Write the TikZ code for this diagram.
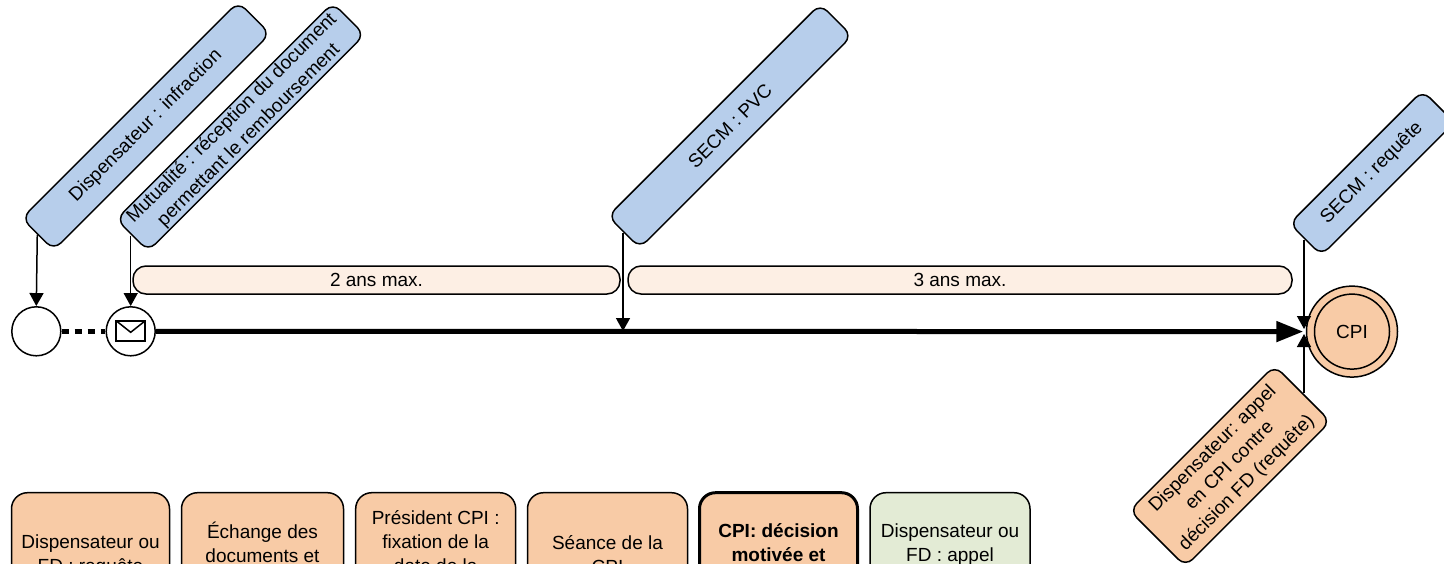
\documentclass[tikz,border=0pt]{standalone}
\usepackage{fontspec}
\setmainfont{Liberation Sans}
\usetikzlibrary{arrows.meta}
\definecolor{eventblue}{HTML}{B7CEEB}
\definecolor{taskorange}{HTML}{F8CBA6}
\definecolor{taskgreen}{HTML}{E3EBD5}
\definecolor{barpeach}{HTML}{FDEFE4}
\begin{document}
\begin{tikzpicture}[
    x=1pt, y=-1pt,
    line width=1.5pt,
    font=\fontsize{19}{24}\selectfont,
    >={Triangle[length=13pt,width=14pt]},
    callout/.style={draw, rectangle, rounded corners=10pt, rotate=45, align=center,
                    inner sep=0pt, minimum height=45pt},
    timebar/.style={draw, rectangle, rounded corners=13pt, fill=barpeach, inner sep=0pt,
                    minimum height=28pt},
    taskbox/.style={draw, rectangle, rounded corners=16pt, fill=taskorange, align=center,
                    inner sep=0pt, minimum height=124.6pt},
    event/.style={draw, circle, fill=white, inner sep=0pt, minimum size=49pt}
  ]
    \path[use as bounding box, clip] (0,0) rectangle (1444,563);

    % events on the time line
    \node[event] (start) at (36.3,331.3) {};
    \node[event] (msg)   at (130.7,331.3) {};
    \node[draw, circle, fill=taskorange, inner sep=0pt, minimum size=91pt] (cpiouter) at (1352,331.6) {};
    \node[draw, circle, inner sep=0pt, minimum size=75pt] (cpi) at (cpiouter) {CPI};
    \coordinate (pvcpoint) at (623,331);
    \coordinate (cpiabove) at (1304,329);
    \coordinate (cpibelow) at (1304,334);

    \begin{scope}[shift={(msg.center)}]
      \draw (-14.5,-10.5) rectangle (14.5,9.5);
      \draw (-14.5,-10.5) -- (0,1) -- (14.5,-10.5);
    \end{scope}

    % callouts
    \node[callout, fill=eventblue, minimum width=306pt] (infraction) at (146,126) {Dispensateur : infraction};
    \node[callout, fill=eventblue, minimum width=306pt] (mutualite) at (240.5,127)
      {Mutualité : réception du document\\permettant le remboursement};
    \node[callout, fill=eventblue, minimum width=300pt] (pvc) at (730,126) {SECM : PVC};
    \node[callout, fill=eventblue, minimum width=188pt] (requete) at (1372,173) {SECM : requête};
    \node[callout, fill=taskorange, minimum width=205pt, minimum height=79pt] (appel) at (1230,466)
      {Dispensateur: appel\\en CPI contre\\décision FD (requête)};

    % durations
    \node[timebar, minimum width=487pt] (deuxans) at (376.5,280) {2 ans max.};
    \node[timebar, minimum width=664pt] (troisans) at (960,280) {3 ans max.};

    % time line
    \draw[line width=5pt, dash pattern=on 7pt off 6pt] (start) -- (msg);
    \draw[line width=5pt, -{Triangle[length=27pt,width=20pt]}, shorten >=2.5pt] (msg) -- (cpiouter);

    \path (infraction.west)             edge[->] (start.north)
          (mutualite.west -| msg.north) edge[->] (msg.north)
          (pvc.west -| pvcpoint)        edge[->] (pvcpoint)
          (requete.west -| cpiabove)    edge[->] (cpiabove)
          (appel.east -| cpibelow)      edge[->] (cpibelow);

    % tasks at the bottom
    \foreach \name/\cx/\cy/\w/\txt in {%
      tsaisine/90.5/556/158/{Dispensateur ou\\FD : requête},
      tdocuments/262.5/554/162/{Échange des\\documents et\\~},
      tdate/435.7/553/160/{Président CPI :\\fixation de la\\date de la\\~},
      tseance/607.5/555/160/{Séance de la\\CPI}}
      {\node[taskbox, minimum width=\w pt, minimum height={2*(\cy-492.7)*1pt}] (\name) at (\cx,\cy) {\txt};}
    \node[taskbox, minimum width=158pt, line width=3pt, font=\fontsize{19}{24}\selectfont\bfseries] (tdecision) at (778.5,555)
      {CPI: décision\\motivée et\\~};
    \node[taskbox, minimum width=160pt, fill=taskgreen] (tappel) at (950,555)
      {Dispensateur ou\\FD : appel\\~};
\end{tikzpicture}
\end{document}
